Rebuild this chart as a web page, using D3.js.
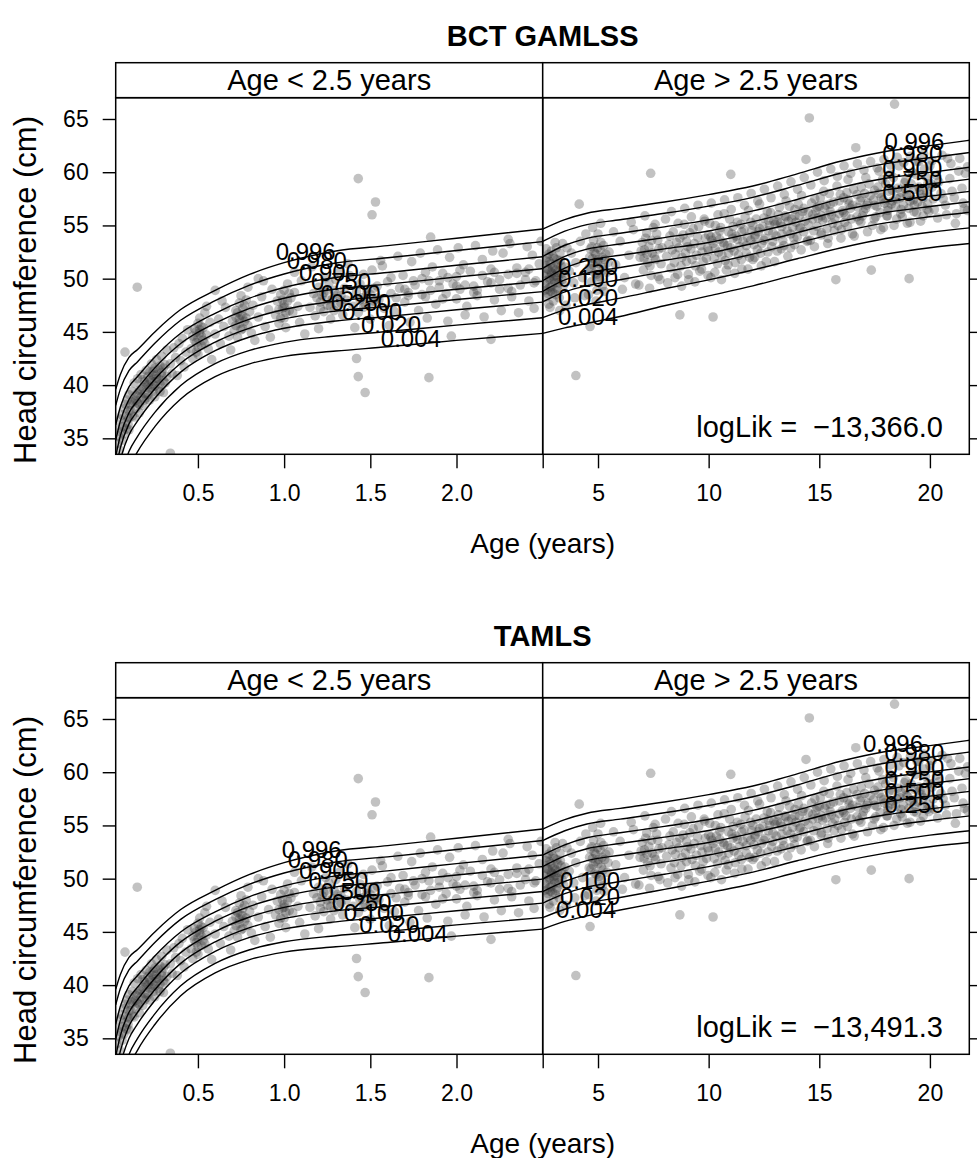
<!DOCTYPE html>
<html><head><meta charset="utf-8">
<script src="https://cdn.jsdelivr.net/npm/d3@7"></script>
<style>
body{margin:0;background:#fff}
text{font-family:"Liberation Sans",Arial,Helvetica,sans-serif;fill:#000}
</style>
</head><body>
<svg id="chart" width="977" height="1158"></svg>
<script>
// ---------------- data ----------------
const modelTitles = ["BCT GAMLSS", "TAMLS"];
const logLikTexts = ["logLik =  \u221213,366.0", "logLik =  \u221213,491.3"];
const stripTexts = ["Age < 2.5 years", "Age > 2.5 years"];
const centileNames = ["0.004","0.020","0.100","0.250","0.500","0.750","0.900","0.980","0.996"];
const yTicks = [35, 40, 45, 50, 55, 60, 65];
const youngTicks = [0.5, 1.0, 1.5, 2.0, 2.5];
const youngTickLabels = ["0.5", "1.0", "1.5", "2.0", ""];
const oldTicks = [5, 10, 15, 20];
const oldTickLabels = ["5", "10", "15", "20"];

const youngAges = [0.023, 0.05, 0.1, 0.15, 0.25, 0.4, 0.6, 0.8, 1.0, 1.3, 1.6, 2.0, 2.5];
const oldAges = [2.5, 3.5, 4.5, 6, 8, 10, 12, 14, 16, 18, 20, 21.8];

// centile curves: one row per age, columns = centileNames
const bctYoung = [
  [27.0, 28.89, 30.78, 32.04, 33.3, 34.81, 36.26, 38.09, 39.6],
  [29.5, 31.23, 32.95, 34.1, 35.25, 36.63, 37.95, 39.62, 41.0],
  [32.2, 33.76, 35.32, 36.36, 37.4, 38.65, 39.84, 41.35, 42.6],
  [33.75, 35.19, 36.63, 37.59, 38.55, 39.7, 40.81, 42.2, 43.35],
  [36.1, 37.44, 38.77, 39.66, 40.55, 41.62, 42.64, 43.93, 45.0],
  [38.7, 39.96, 41.22, 42.06, 42.9, 43.91, 44.87, 46.09, 47.1],
  [40.8, 42.02, 43.23, 44.04, 44.85, 45.82, 46.75, 47.93, 48.9],
  [42.0, 43.26, 44.52, 45.36, 46.2, 47.21, 48.17, 49.39, 50.4],
  [42.7, 44.02, 45.34, 46.22, 47.1, 48.16, 49.17, 50.44, 51.5],
  [43.2, 44.61, 46.02, 46.96, 47.9, 49.03, 50.11, 51.47, 52.6],
  [43.6, 45.03, 46.45, 47.4, 48.35, 49.49, 50.58, 51.96, 53.1],
  [44.2, 45.64, 47.08, 48.04, 49.0, 50.15, 51.26, 52.65, 53.8],
  [44.86, 46.33, 47.8, 48.78, 49.76, 50.94, 52.06, 53.48, 54.66]
];
const bctOld = [
  [44.86, 46.34, 47.82, 48.81, 49.8, 50.97, 52.08, 53.49, 54.66],
  [45.38, 47.07, 48.75, 49.88, 51.0, 52.09, 53.14, 54.46, 55.55],
  [45.8, 47.57, 49.34, 50.52, 51.7, 52.77, 53.79, 55.08, 56.15],
  [46.45, 48.17, 49.9, 51.05, 52.2, 53.26, 54.27, 55.54, 56.6],
  [47.45, 49.05, 50.66, 51.73, 52.8, 53.86, 54.87, 56.14, 57.2],
  [48.38, 49.89, 51.39, 52.4, 53.4, 54.48, 55.52, 56.82, 57.9],
  [49.32, 50.81, 52.31, 53.3, 54.3, 55.36, 56.37, 57.64, 58.7],
  [50.4, 51.87, 53.34, 54.32, 55.3, 56.39, 57.44, 58.76, 59.85],
  [51.4, 52.9, 54.4, 55.4, 56.4, 57.52, 58.59, 59.93, 61.05],
  [52.3, 53.77, 55.24, 56.22, 57.2, 58.34, 59.43, 60.81, 61.95],
  [52.9, 54.36, 55.81, 56.78, 57.75, 58.89, 59.98, 61.36, 62.5],
  [53.3, 54.77, 56.24, 57.22, 58.2, 59.35, 60.46, 61.85, 63.0]
];
const tamlsYoung = [
  [27.0, 28.45, 30.28, 31.73, 33.3, 34.88, 36.32, 38.15, 39.6],
  [29.5, 30.82, 32.49, 33.81, 35.25, 36.69, 38.01, 39.68, 41.0],
  [32.3, 33.48, 34.98, 36.16, 37.45, 38.74, 39.92, 41.42, 42.6],
  [33.9, 34.99, 36.36, 37.45, 38.63, 39.81, 40.9, 42.27, 43.35],
  [36.3, 37.3, 38.56, 39.56, 40.65, 41.74, 42.74, 44.0, 45.0],
  [39.0, 39.93, 41.11, 42.04, 43.05, 44.06, 44.99, 46.17, 47.1],
  [41.15, 42.04, 43.17, 44.06, 45.03, 46.0, 46.89, 48.02, 48.9],
  [42.4, 43.32, 44.48, 45.4, 46.4, 47.4, 48.32, 49.48, 50.4],
  [43.1, 44.07, 45.28, 46.25, 47.3, 48.35, 49.32, 50.53, 51.5],
  [43.6, 44.64, 45.94, 46.98, 48.1, 49.23, 50.26, 51.57, 52.6],
  [44.0, 45.05, 46.37, 47.41, 48.55, 49.69, 50.73, 52.05, 53.1],
  [44.6, 45.66, 46.99, 48.05, 49.2, 50.35, 51.41, 52.74, 53.8],
  [45.26, 46.34, 47.7, 48.79, 49.96, 51.14, 52.22, 53.58, 54.66]
];
const tamlsOld = [
  [45.26, 46.34, 47.7, 48.79, 49.96, 51.14, 52.22, 53.58, 54.66],
  [45.98, 47.13, 48.59, 49.75, 51.0, 52.14, 53.18, 54.5, 55.55],
  [46.5, 47.7, 49.2, 50.4, 51.7, 52.81, 53.84, 55.13, 56.15],
  [47.05, 48.23, 49.73, 50.91, 52.2, 53.3, 54.31, 55.59, 56.6],
  [47.85, 48.99, 50.42, 51.56, 52.8, 53.9, 54.91, 56.19, 57.2],
  [48.68, 49.77, 51.13, 52.22, 53.4, 54.53, 55.56, 56.87, 57.9],
  [49.52, 50.62, 52.01, 53.1, 54.3, 55.4, 56.41, 57.69, 58.7],
  [50.6, 51.68, 53.04, 54.12, 55.3, 56.44, 57.48, 58.8, 59.85],
  [51.6, 52.7, 54.1, 55.2, 56.4, 57.56, 58.63, 59.98, 61.05],
  [52.4, 53.5, 54.9, 56.0, 57.2, 58.39, 59.48, 60.86, 61.95],
  [53.0, 54.09, 55.47, 56.56, 57.75, 58.94, 60.03, 61.41, 62.5],
  [53.4, 54.5, 55.9, 57.0, 58.2, 59.4, 60.5, 61.9, 63.0]
];

// age at which each centile label sits (per centile, per panel)
const bctLabelAgesYoung = [1.735, 1.62, 1.51, 1.445, 1.385, 1.33, 1.26, 1.19, 1.125];
const bctLabelAgesOld = [4.55, 4.55, 4.55, 4.55, 19.2, 19.2, 19.2, 19.2, 19.3];
const tamlsLabelAgesYoung = [1.775, 1.61, 1.52, 1.45, 1.385, 1.315, 1.26, 1.195, 1.16];
const tamlsLabelAgesOld = [4.46, 4.64, 4.64, 19.3, 19.3, 19.3, 19.3, 19.3, 18.33];

// observations [age (years), head circumference (cm)]
const observations = [
 [0.03,34.5],[0.035,36.0],[0.04,35.2],[0.045,33.9],[0.05,36.8],[0.055,35.6],[0.06,34.8],[0.06,37.2],[0.065,36.1],[0.07,35.4],
 [0.075,37.8],[0.08,36.5],[0.08,38.2],[0.085,35.9],[0.09,37.0],[0.09,38.6],[0.095,36.3],[0.1,37.6],[0.1,39.1],[0.1,35.8],
 [0.11,38.2],[0.12,37.1],[0.12,39.4],[0.13,38.5],[0.13,40.2],[0.14,37.8],[0.14,39.0],[0.15,38.3],[0.15,40.6],[0.16,39.5],
 [0.16,37.4],[0.17,38.9],[0.17,41.0],[0.18,39.8],[0.18,38.1],[0.19,40.3],[0.19,39.2],[0.2,41.4],[0.2,38.8],
 [0.21,40.0],[0.21,39.1],[0.22,41.2],[0.22,40.5],[0.22,38.6],[0.23,39.8],[0.23,42.0],[0.24,40.9],[0.24,39.4],[0.25,41.6],
 [0.25,40.3],[0.25,38.9],[0.26,41.0],[0.26,42.4],[0.27,40.6],[0.27,39.7],[0.28,41.8],[0.28,40.1],[0.29,42.7],[0.29,41.2],
 [0.3,40.4],[0.3,39.3],[0.31,41.9],[0.32,43.3],[0.32,40.8],
 [0.1,36.9],[0.11,37.6],[0.12,38.4],[0.13,37.0],[0.14,38.6],[0.15,39.2],[0.16,38.2],[0.17,39.6],[0.18,40.5],[0.19,38.6],
 [0.2,40.0],[0.21,40.8],[0.22,39.7],[0.23,40.4],[0.24,41.3],[0.25,39.9],[0.26,40.6],[0.27,41.5],[0.28,39.4],[0.29,40.9],
 [0.3,41.6],[0.31,40.2],
 [0.34,42.0],[0.35,41.1],[0.36,43.5],[0.37,42.6],[0.38,40.9],[0.39,43.9],[0.4,42.3],[0.41,44.4],[0.42,41.7],[0.43,43.1],[0.44,45.2],
 [0.46,43.4],[0.47,44.6],[0.47,42.5],[0.48,45.3],[0.49,44.0],[0.49,43.1],[0.5,45.8],[0.5,44.4],[0.5,42.9],[0.51,46.3],
 [0.51,44.9],[0.52,43.7],[0.52,45.5],[0.53,44.2],[0.54,46.8],[0.55,44.7],[0.56,43.4],[0.57,45.9],
 [0.48,44.2],[0.49,45.0],[0.5,43.6],[0.51,45.2],[0.52,44.6],[0.53,45.4],[0.54,43.9],
 [0.55,47.4],[0.58,42.4],[0.64,47.9],[0.69,43.3],[0.79,49.2],[0.83,44.2],[0.88,49.8],[0.92,44.5],
 [0.6,44.8],[0.62,46.2],[0.63,43.9],[0.65,45.5],[0.66,47.3],[0.68,44.6],
 [0.7,46.0],[0.71,45.1],[0.72,47.0],[0.72,46.4],[0.73,44.5],[0.74,47.7],[0.74,45.8],[0.75,46.6],[0.75,48.4],[0.76,45.3],
 [0.76,47.2],[0.77,46.0],[0.78,48.0],[0.79,45.6],[0.8,46.9],[0.81,44.9],[0.82,47.5],
 [0.72,45.6],[0.73,46.8],[0.74,46.2],[0.75,45.2],[0.76,46.5],[0.77,47.5],[0.78,46.3],
 [0.85,46.4],[0.87,48.3],[0.89,45.5],[0.91,47.1],[0.93,49.0],
 [0.95,46.6],[0.96,47.9],[0.97,45.8],[0.98,48.5],[0.99,47.2],[1.0,46.3],[1.0,48.9],[1.0,47.6],[1.01,45.4],[1.02,49.5],
 [1.03,47.0],[1.04,48.2],[1.05,46.8],[1.06,48.7],[1.08,47.4],[1.09,45.9],[1.1,49.8],
 [0.97,47.1],[0.98,46.3],[0.99,48.0],[1.0,47.3],[1.01,46.8],[1.02,47.9],[1.03,48.6],
 [1.06,50.6],[1.12,44.8],[1.16,51.1],[1.2,45.3],[1.37,51.4],[1.41,45.4],
 [1.15,47.3],[1.17,48.6],[1.18,46.5],[1.2,49.2],[1.21,47.8],[1.22,48.4],[1.23,46.9],[1.24,50.1],[1.25,47.5],[1.25,48.9],
 [1.26,49.6],[1.27,46.2],[1.28,48.1],[1.29,47.0],[1.3,49.9],[1.31,48.5],[1.32,50.6],[1.33,47.7],[1.34,46.6],[1.35,49.1],
 [1.36,48.0],[1.38,50.3],
 [1.19,48.2],[1.21,47.2],[1.23,48.7],[1.25,48.0],[1.27,47.4],[1.29,48.9],[1.31,47.6],[1.33,48.4],
 [1.4,47.4],[1.42,48.8],[1.43,46.8],[1.44,49.5],[1.45,48.2],[1.46,50.4],[1.47,47.6],[1.48,49.0],[1.5,48.5],[1.5,46.2],
 [1.51,50.8],[1.52,47.9],[1.54,49.3],[1.55,48.0],[1.57,51.2],[1.58,47.2],[1.6,49.7],[1.62,48.6],[1.64,46.9],
 [1.44,48.0],[1.46,47.3],[1.48,48.6],[1.5,47.7],[1.52,49.1],[1.54,48.2],
 [1.56,51.7],[1.61,45.6],[1.66,52.1],[1.73,45.9],[1.79,52.4],[1.83,46.3],[1.89,52.7],[1.95,46.0],[2.01,52.9],[2.05,46.6],
 [2.11,53.1],[2.16,46.4],[2.21,52.6],[2.26,47.0],[2.31,53.3],[2.36,46.8],[2.41,53.0],[2.45,47.2],[2.49,53.5],
 [1.67,49.1],[1.69,50.3],[1.7,47.8],[1.72,48.7],[1.74,51.6],[1.76,49.4],[1.78,47.0],[1.8,50.0],[1.82,48.3],[1.84,49.8],
 [1.86,51.1],[1.88,47.6],[1.9,49.2],[1.92,50.5],[1.94,48.6],[1.96,52.0],[1.98,49.5],[2.0,48.1],[2.0,50.2],[2.02,49.0],
 [2.04,51.3],[2.06,47.4],[2.08,50.7],[2.1,49.3],[2.12,48.4],[2.15,51.8],[2.18,49.7],[2.2,50.9],[2.22,48.0],[2.25,49.9],
 [2.27,52.4],[2.3,50.4],[2.32,48.8],[2.35,51.0],[2.37,49.4],[2.4,50.6],[2.42,47.9],[2.44,52.2],[2.46,49.8],[2.48,51.4],
 [1.7,49.0],[1.8,48.5],[1.9,49.8],[2.0,49.3],[2.1,48.7],[2.2,49.6],[2.3,49.1],[2.4,49.9],
 [1.65,48.2],[1.75,49.8],[1.85,48.9],[1.95,50.1],[2.05,49.4],[2.15,50.3],[2.25,49.0],[2.35,50.5],[2.45,49.6],
 [1.62,50.1],[1.72,48.4],[1.82,50.6],[1.92,48.1],[2.02,50.8],[2.12,48.9],[2.22,50.6],[2.32,48.3],[2.42,50.9],
 [0.148,49.2],[1.43,59.4],[1.53,57.2],[1.51,56.0],[1.43,40.8],[1.47,39.3],[1.42,42.5],[1.84,40.7],[0.077,43.1],[0.34,33.6],
 [1.97,44.6],[2.2,44.3],[0.6,48.9],[2.3,53.7],[1.85,53.9],[0.85,50.0],
 [2.6,49.5],[2.62,51.2],[2.65,48.3],[2.68,50.4],[2.7,52.0],[2.72,49.0],[2.75,50.9],[2.78,47.6],[2.8,51.6],[2.82,49.9],
 [2.85,48.8],[2.88,50.6],[2.9,52.6],[2.92,49.3],[2.95,51.0],[2.98,47.9],[3.0,50.2],[3.02,51.9],[3.05,49.6],[3.08,48.5],
 [3.1,50.8],[3.12,52.9],[3.15,49.1],[3.18,51.4],[3.2,50.0],[3.25,48.2],[3.3,51.7],[3.35,50.5],[3.4,53.3],[3.45,49.4],
 [3.5,51.1],[3.55,47.5],
 [2.55,50.3],[2.58,48.9],[2.63,51.7],[2.67,49.8],[2.71,50.9],[2.74,48.6],[2.77,52.3],[2.81,50.1],[2.84,49.2],[2.87,51.4],
 [2.91,50.5],[2.94,48.7],[2.97,52.1],[3.01,49.9],[3.04,51.0],[3.07,50.3],[3.11,48.9],[3.14,51.8],[3.17,50.6],[3.22,49.6],
 [3.28,52.4],[3.33,51.2],[3.38,49.9],[3.48,50.4],
 [2.66,52.8],[2.83,47.3],[3.06,53.4],[3.27,47.0],[3.6,52.9],[3.95,48.2],[4.45,54.2],[4.57,48.5],[4.76,54.8],[4.91,47.9],
 [5.12,55.2],[5.28,48.8],[5.7,54.4],[6.1,49.0],[6.5,55.3],[6.85,49.4],[7.12,55.9],[7.33,49.1],[7.58,55.1],[7.72,50.2],
 [3.7,50.7],[3.8,52.4],[3.9,49.6],[4.0,51.5],[4.15,57.0],[4.0,40.9],[4.2,53.5],[4.3,50.1],[4.4,48.4],
 [4.6,51.0],[4.65,52.8],[4.7,49.7],[4.75,51.9],[4.8,53.6],[4.85,50.5],[4.9,52.3],[4.95,48.9],[5.0,51.4],[5.0,54.2],
 [5.05,50.2],[5.1,52.7],[5.15,51.1],[5.2,49.3],[5.25,53.1],[5.3,51.8],[5.4,50.6],[5.5,52.5],[4.64,45.5],
 [4.62,52.0],[4.68,50.9],[4.72,53.0],[4.78,51.3],[4.83,52.5],[4.88,51.6],[4.93,50.4],[4.98,52.9],[5.03,51.8],[5.08,49.9],
 [5.13,53.4],[5.18,52.0],[5.23,50.8],[5.35,52.3],[5.45,51.5],
 [5.8,51.3],[6.0,53.5],[6.2,50.1],[6.4,52.2],[6.6,54.6],[6.7,49.5],
 [6.9,52.0],[7.0,53.4],[7.05,50.8],[7.1,52.7],[7.2,54.3],[7.25,51.5],[7.3,53.0],[7.38,59.9],[7.4,50.3],[7.45,52.4],
 [7.5,54.8],[7.6,51.8],[7.7,53.6],[7.8,49.9],[7.9,52.9],
 [6.95,52.6],[7.08,51.9],[7.15,53.8],[7.22,52.3],[7.35,51.2],[7.42,53.6],[7.55,52.1],[7.65,54.2],[7.75,52.8],[7.85,51.4],
 [8.2,53.2],[8.3,51.0],[8.4,54.4],[8.5,52.3],[8.6,50.4],[8.7,46.6],[8.7,53.8],[8.8,52.0],[8.9,55.1],[9.0,51.6],
 [9.0,53.5],[9.1,49.9],[9.2,52.8],[9.3,54.7],[9.4,51.2],[9.5,53.9],[9.6,50.7],[9.7,52.5],[9.8,55.6],[9.9,51.9],
 [10.0,54.1],[10.0,52.6],[10.1,50.1],[10.2,46.4],[10.2,53.3],[10.3,55.0],[10.4,51.4],[10.5,53.7],[10.6,52.2],[10.7,56.1],
 [10.8,50.8],[10.9,54.4],[11.0,59.8],[11.0,52.9],
 [8.1,52.1],[8.25,54.0],[8.35,52.7],[8.45,51.5],[8.55,53.4],[8.65,52.9],[8.75,51.2],[8.85,54.1],[8.95,52.4],[9.05,53.0],
 [9.15,54.3],[9.25,51.8],[9.35,53.3],[9.45,52.2],[9.55,54.9],[9.65,53.1],[9.75,51.6],[9.85,53.8],[9.95,52.9],[10.05,55.2],
 [10.15,53.6],[10.25,51.9],[10.35,54.0],[10.45,52.5],[10.55,54.8],[10.65,53.4],[10.75,51.7],[10.85,53.1],[10.95,55.6],
 [8.05,55.6],[8.15,49.6],[8.32,56.3],[8.48,50.1],[8.62,55.2],[8.78,49.3],[8.92,56.6],[9.08,50.4],[9.22,55.8],[9.38,49.7],
 [9.52,56.9],[9.68,50.9],[9.82,55.4],[9.97,50.3],[10.12,57.1],[10.28,50.6],[10.42,56.0],[10.58,49.9],[10.72,57.4],[10.88,51.3],
 [10.1,53.9],[10.3,52.8],[10.5,54.5],[10.7,53.2],[10.9,52.4],
 [11.1,53.8],[11.2,51.5],[11.3,55.3],[11.4,53.0],[11.5,50.9],[11.6,54.6],[11.7,52.4],[11.8,56.4],[11.9,53.6],[12.0,51.8],
 [12.0,55.0],[12.1,54.1],[12.2,52.7],[12.3,57.0],[12.4,53.3],[12.5,55.7],[12.6,51.6],[12.7,54.5],[12.8,56.2],[12.9,53.5],
 [11.05,54.2],[11.15,52.6],[11.25,54.0],[11.35,52.2],[11.45,55.1],[11.55,53.5],[11.65,55.8],[11.75,53.9],[11.85,52.0],[11.95,54.5],
 [12.05,53.2],[12.15,55.6],[12.25,54.4],[12.35,52.4],[12.45,54.9],[12.55,53.8],[12.65,56.3],[12.75,55.0],[12.85,53.0],[12.95,55.4],
 [11.02,56.5],[11.18,50.5],[11.32,57.6],[11.48,51.8],[11.62,56.9],[11.78,50.9],[11.92,58.0],[12.08,52.0],[12.22,57.3],[12.38,51.2],
 [12.52,58.4],[12.68,52.5],[12.82,57.6],[12.98,51.6],
 [11.1,54.9],[11.3,53.7],[11.5,54.4],[11.7,53.1],[11.9,55.3],[12.1,53.9],[12.3,54.7],[12.5,53.6],[12.7,55.5],[12.9,54.3],
 [13.0,55.1],[13.1,52.6],[13.2,56.7],[13.3,54.2],[13.4,53.1],[13.5,57.3],[13.6,55.4],[13.7,52.9],[13.8,54.8],[13.9,56.5],
 [14.0,53.9],[14.1,55.9],[14.2,57.8],[14.4,61.2],[14.3,54.4],[14.5,56.2],[14.55,65.1],[14.6,53.6],[14.7,55.6],[14.8,57.5],[14.9,54.9],
 [13.05,54.0],[13.15,56.0],[13.25,55.2],[13.35,53.6],[13.45,55.9],[13.55,54.5],[13.65,56.8],[13.75,55.6],[13.85,53.8],[13.95,55.3],
 [14.05,57.0],[14.15,54.8],[14.25,56.3],[14.35,55.4],[14.45,53.5],[14.65,57.1],[14.75,54.5],[14.85,56.4],[14.95,55.7],
 [13.12,58.7],[13.28,52.8],[13.42,57.9],[13.58,52.1],[13.72,59.1],[13.88,53.2],[14.02,58.4],[14.18,52.7],[14.32,59.5],[14.48,53.6],
 [14.62,58.8],[14.78,53.0],[14.92,60.0],
 [13.1,55.4],[13.3,54.9],[13.5,55.8],[13.7,54.2],[13.9,55.9],[14.1,54.7],[14.3,56.6],[14.5,55.1],[14.7,56.0],[14.9,56.7],
 [15.0,56.8],[15.1,54.3],[15.2,58.2],[15.3,55.7],[15.4,53.8],[15.5,57.0],[15.6,55.2],[15.75,49.9],[15.8,58.7],[15.9,56.1],
 [16.0,54.6],[16.1,57.6],[16.2,55.9],[16.3,59.3],[16.4,56.6],[16.5,54.2],[16.65,62.3],[16.7,57.9],[16.8,55.5],[16.9,58.6],
 [15.05,57.6],[15.15,55.5],[15.25,56.6],[15.35,54.7],[15.45,58.0],[15.55,56.0],[15.65,57.2],[15.85,55.0],[15.95,57.9],
 [16.05,56.4],[16.15,55.3],[16.25,58.1],[16.35,57.0],[16.45,55.6],[16.55,58.4],[16.75,56.7],[16.85,57.3],[16.95,55.9],
 [15.08,54.1],[15.22,59.2],[15.38,53.3],[15.52,60.3],[15.68,54.5],[15.82,59.6],[15.98,53.8],[16.12,60.6],[16.28,54.9],[16.42,59.9],
 [16.58,54.0],[16.72,60.8],[16.88,55.3],
 [15.1,55.9],[15.3,56.9],[15.5,56.3],[15.7,55.6],[15.9,57.3],[16.1,56.2],[16.3,57.4],[16.5,56.9],[16.7,55.8],[16.9,57.6],
 [17.0,56.3],[17.1,59.5],[17.2,57.1],[17.35,50.8],[17.4,55.0],[17.5,58.3],[17.6,56.8],[17.7,60.1],[17.8,57.6],[17.9,54.8],
 [18.0,58.9],[18.1,56.4],[18.2,59.8],[18.4,66.4],[18.3,57.3],[18.5,55.6],[18.6,60.6],[18.7,58.1],[18.8,56.9],[18.9,59.2],
 [17.05,58.0],[17.15,56.9],[17.25,58.9],[17.45,57.4],[17.55,55.8],[17.65,58.6],[17.75,56.2],[17.85,59.3],[17.95,57.1],
 [18.05,55.9],[18.15,58.2],[18.25,57.0],[18.35,59.5],[18.45,56.8],[18.55,58.5],[18.65,57.6],[18.75,55.8],[18.85,59.0],[18.95,57.8],
 [17.02,60.2],[17.18,54.4],[17.32,61.0],[17.48,55.6],[17.62,60.4],[17.78,54.6],[17.92,61.2],[18.08,55.9],[18.22,60.7],[18.38,55.0],
 [18.52,61.4],[18.68,56.1],[18.82,60.9],[18.98,55.2],
 [17.1,56.6],[17.3,57.8],[17.5,56.9],[17.7,58.0],[17.9,57.4],[18.1,56.7],[18.3,58.3],[18.5,57.5],[18.7,56.5],[18.9,58.4],
 [19.0,57.7],[19.06,50.0],[19.1,55.3],[19.2,60.0],[19.3,58.4],[19.4,56.2],[19.5,61.0],[19.6,57.9],[19.7,55.9],[19.8,59.6],
 [19.9,57.0],[20.0,60.6],[20.1,58.6],[20.2,56.5],[20.4,59.1],[20.6,57.5],[20.8,61.3],[21.0,58.2],[21.2,56.1],[21.5,57.1],[21.6,59.9],
 [19.05,56.6],[19.15,58.9],[19.25,57.4],[19.35,59.8],[19.45,57.2],[19.55,58.3],[19.65,56.8],[19.75,60.3],[19.85,58.1],[19.95,56.3],
 [20.05,58.9],[20.15,57.5],[20.3,59.7],[20.5,58.0],[20.7,56.9],[20.9,59.4],[21.1,57.6],[21.3,60.1],[21.45,58.5],[21.7,56.4],
 [19.12,61.5],[19.28,56.3],[19.42,61.0],[19.58,55.4],[19.72,61.7],[19.88,56.5],[20.1,61.1],[20.35,55.7],[20.55,61.6],[20.75,56.0],
 [20.95,60.8],[21.15,55.2],[21.35,61.3],[21.55,56.6],[21.7,60.5],
 [19.1,57.3],[19.3,56.9],[19.5,58.6],[19.7,57.6],[19.9,58.9]
];

const models = [
  {title: modelTitles[0], logLik: logLikTexts[0], young: bctYoung, old: bctOld, labYoung: bctLabelAgesYoung, labOld: bctLabelAgesOld},
  {title: modelTitles[1], logLik: logLikTexts[1], young: tamlsYoung, old: tamlsOld, labYoung: tamlsLabelAgesYoung, labOld: tamlsLabelAgesOld}
];

// ---------------- layout ----------------
const svg = d3.select("#chart");
const L = 115.7, MID = 542.7, R = 969.3;
const STRIP_TOP = 62.7, PANEL_TOP = 97.7, PANEL_BOT = 454.3;
const BLOCK = 600;

const xYoung = d3.scaleLinear().domain([0.023, 2.5]).range([L, MID]);
const xOld = d3.scaleLinear().domain([2.5, 21.78]).range([MID, R]);

function interpCentile(ages, table, age, k) {
  const i = Math.max(1, Math.min(ages.length - 1, d3.bisectLeft(ages, age)));
  const a0 = ages[i - 1], a1 = ages[i];
  const t = (age - a0) / (a1 - a0);
  return table[i - 1][k] + t * (table[i][k] - table[i - 1][k]);
}

models.forEach((m, mi) => {
  const off = mi * BLOCK;
  const g = svg.append("g");
  const y = d3.scaleLinear().domain([33.5, 67.0]).range([PANEL_BOT + off, PANEL_TOP + off]);

  // title
  g.append("text").attr("x", MID).attr("y", 46 + off).attr("text-anchor", "middle")
    .style("font-size", "29px").style("font-weight", "bold").text(m.title);

  const panels = [
    {x: xYoung, ages: youngAges, table: m.young, labAges: m.labYoung, x0: L, x1: MID,
     filter: d => d[0] <= 2.5, strip: stripTexts[0]},
    {x: xOld, ages: oldAges, table: m.old, labAges: m.labOld, x0: MID, x1: R,
     filter: d => d[0] > 2.5, strip: stripTexts[1]}
  ];

  panels.forEach((p, pi) => {
    const clipId = `clip-${mi}-${pi}`;
    svg.append("clipPath").attr("id", clipId).append("rect")
      .attr("x", p.x0).attr("y", PANEL_TOP + off).attr("width", p.x1 - p.x0).attr("height", PANEL_BOT - PANEL_TOP);
    const pg = g.append("g").attr("clip-path", `url(#${clipId})`);

    // points
    pg.append("g").selectAll("circle").data(observations.filter(p.filter)).join("circle")
      .attr("cx", d => p.x(d[0])).attr("cy", d => y(d[1])).attr("r", 4.8)
      .attr("fill", "#363636").attr("fill-opacity", 0.3);

    // centile curves
    const line = d3.line().x(d => p.x(d[0])).y(d => y(d[1])).curve(d3.curveMonotoneX);
    centileNames.forEach((name, k) => {
      const pts = p.ages.map((a, i) => [a, p.table[i][k]]);
      pg.append("path").attr("d", line(pts)).attr("fill", "none")
        .attr("stroke", "#000").attr("stroke-width", 1.4);
    });

    // centile labels
    centileNames.forEach((name, k) => {
      const a = p.labAges[k];
      const v = interpCentile(p.ages, p.table, a, k);
      pg.append("text").attr("x", p.x(a)).attr("y", y(v) + 2).attr("text-anchor", "middle")
        .style("font-size", "24px").text(name);
    });

    // strip
    g.append("rect").attr("x", p.x0).attr("y", STRIP_TOP + off).attr("width", p.x1 - p.x0)
      .attr("height", PANEL_TOP - STRIP_TOP).attr("fill", "#fff").attr("stroke", "#000").attr("stroke-width", 1.5);
    g.append("text").attr("x", (p.x0 + p.x1) / 2).attr("y", STRIP_TOP + off + 27)
      .attr("text-anchor", "middle").style("font-size", "29px").text(p.strip);

    // panel border
    g.append("rect").attr("x", p.x0).attr("y", PANEL_TOP + off).attr("width", p.x1 - p.x0)
      .attr("height", PANEL_BOT - PANEL_TOP).attr("fill", "none").attr("stroke", "#000").attr("stroke-width", 1.5);
  });

  // axes
  const yAxisL = d3.axisLeft(y).tickValues(yTicks).tickSize(13).tickPadding(14).tickFormat(d3.format("d"));
  const ga = g.append("g").attr("transform", `translate(${L},0)`).call(yAxisL);
  const yAxisR = d3.axisRight(y).tickValues(yTicks).tickSize(13).tickFormat("");
  const gr = g.append("g").attr("transform", `translate(${R},0)`).call(yAxisR);

  const xAxisY = d3.axisBottom(xYoung).tickValues(youngTicks).tickSize(14).tickPadding(16)
    .tickFormat((d, i) => youngTickLabels[i]);
  const gxy = g.append("g").attr("transform", `translate(0,${PANEL_BOT + off})`).call(xAxisY);
  const xAxisO = d3.axisBottom(xOld).tickValues(oldTicks).tickSize(14).tickPadding(16)
    .tickFormat((d, i) => oldTickLabels[i]);
  const gxo = g.append("g").attr("transform", `translate(0,${PANEL_BOT + off})`).call(xAxisO);

  [ga, gr, gxy, gxo].forEach(a => {
    a.select(".domain").remove();
    a.selectAll("line").attr("stroke", "#000").attr("stroke-width", 1.4);
    a.selectAll("text").style("font-size", "23px").attr("font-family", null);
  });

  // logLik annotation
  g.append("text").attr("x", 943).attr("y", 437 + off).attr("text-anchor", "end")
    .style("font-size", "29px").style("white-space", "pre").attr("xml:space", "preserve").text(m.logLik);

  // axis titles
  g.append("text").attr("x", MID).attr("y", 553 + off).attr("text-anchor", "middle")
    .style("font-size", "28px").text("Age (years)");
  g.append("text").attr("transform", `translate(36,${290 + off}) rotate(-90)`).attr("text-anchor", "middle")
    .style("font-size", "31px").text("Head circumference (cm)");
});
</script>
</body></html>
